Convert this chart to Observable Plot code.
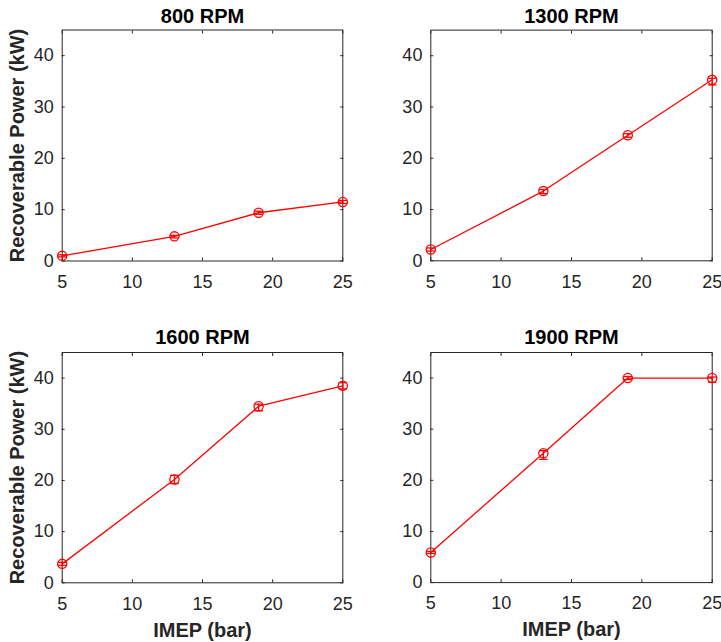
<!DOCTYPE html>
<html><head><meta charset="utf-8">
<script src="https://cdn.jsdelivr.net/npm/d3@7"></script>
<script src="https://cdn.jsdelivr.net/npm/@observablehq/plot@0.6"></script>
<style>
html,body{margin:0;padding:0;background:#fff;}
#chart{position:relative;width:721px;height:642px;overflow:hidden;}
#chart > div{position:absolute;}
</style></head><body><div id="chart"></div>
<script>
// ---- data ----
const imep = [5, 13, 19, 25];
const panelTitles = ["800 RPM", "1300 RPM", "1600 RPM", "1900 RPM"];
const power800  = [1.0, 4.8, 9.4, 11.5];
const power1300 = [2.2, 13.6, 24.5, 35.3];
const power1600 = [3.7, 20.2, 34.5, 38.5];
const power1900 = [5.9, 25.3, 40.0, 40.0];
const errLow800  = [0.2, 0.3, 0.3, 0.3];
const errHigh800 = [0.2, 0.2, 0.3, 0.3];
const errLow1300  = [0.3, 0.5, 0.4, 1.0];
const errHigh1300 = [0.3, 0.3, 0.3, 0.3];
const errLow1600  = [0.3, 0.8, 0.9, 0.6];
const errHigh1600 = [0.3, 0.8, 0.4, 0.6];
const errLow1900  = [0.2, 1.2, 0.3, 0.8];
const errHigh1900 = [0.2, 0.5, 0.3, 0.2];
const xTicks = [5, 10, 15, 20, 25];
const yTicks = [0, 10, 20, 30, 40];
const xLabel = "IMEP (bar)";
const yLabel = "Recoverable Power (kW)";

const seriesPower = [power800, power1300, power1600, power1900];
const seriesLow = [errLow800, errLow1300, errLow1600, errLow1900];
const seriesHigh = [errHigh800, errHigh1300, errHigh1600, errHigh1900];

// ---- layout ----
const layout = [
  {left: 0,   top: 0,   width: 370, height: 300, mL: 61.7, mR: 27.7, mT: 29.5, mB: 39.5, ylab: true,  xlab: false, tdy: -7.5},
  {left: 370, top: 0,   width: 351, height: 300, mL: 60.3, mR: 9.3,  mT: 29.6, mB: 39.7, ylab: false, xlab: false, tdy: -7.5},
  {left: 0,   top: 300, width: 370, height: 342, mL: 61.7, mR: 27.7, mT: 52,   mB: 59.7, ylab: true,  xlab: true,  tdy: -8.5},
  {left: 370, top: 300, width: 351, height: 342, mL: 60.3, mR: 9.3,  mT: 52,   mB: 59.9, ylab: false, xlab: true,  tdy: -8.5}
];

const red = "#ff0000";
const axisColor = "#262626";
const font = "'Liberation Sans', Arial, Helvetica, sans-serif";
const capSymbol = {draw(ctx, size) { const w = Math.sqrt(size / Math.PI); ctx.moveTo(-w, 0); ctx.lineTo(w, 0); }};

const chart = document.getElementById("chart");

layout.forEach((L, i) => {
  const rows = imep.map((x, j) => ({
    x, y: seriesPower[i][j],
    lo: seriesPower[i][j] - seriesLow[i][j],
    hi: seriesPower[i][j] + seriesHigh[i][j]
  }));
  const marks = [
    Plot.frame({stroke: axisColor, strokeWidth: 1}),
    Plot.axisX({ticks: xTicks, anchor: "bottom", tickSize: -3, tickPadding: 17, fontSize: 18, label: null}),
    Plot.axisX({ticks: xTicks, anchor: "top", tickSize: -3, fill: "none", label: null}),
    Plot.axisY({ticks: yTicks, anchor: "left", tickSize: -3, tickPadding: 11.4, fontSize: 18, label: null}),
    Plot.axisY({ticks: yTicks, anchor: "right", tickSize: -3, fill: "none", label: null}),
    Plot.line(rows, {x: "x", y: "y", stroke: red, strokeWidth: 1.3}),
    Plot.ruleX(rows, {x: "x", y1: "lo", y2: "hi", stroke: red, strokeWidth: 1.3}),
    Plot.dot(rows, {x: "x", y: "lo", symbol: capSymbol, r: 4.3, stroke: red, fill: "none", strokeWidth: 1.3}),
    Plot.dot(rows, {x: "x", y: "hi", symbol: capSymbol, r: 4.3, stroke: red, fill: "none", strokeWidth: 1.3}),
    Plot.dot(rows, {x: "x", y: "y", r: 4.6, stroke: red, fill: "none", strokeWidth: 1.3}),
    Plot.text([panelTitles[i]], {frameAnchor: "top", lineAnchor: "bottom", dy: L.tdy, fontSize: 20, fontWeight: "bold", fill: "#000"})
  ];
  if (L.ylab) marks.push(Plot.text([yLabel], {frameAnchor: "left", textAnchor: "middle", rotate: -90, dx: -45, fontSize: 20, fontWeight: "bold", fill: axisColor}));
  if (L.xlab) marks.push(Plot.text([xLabel], {frameAnchor: "bottom", lineAnchor: "bottom", dy: 53.7, fontSize: 20, fontWeight: "bold", fill: axisColor}));

  const svg = Plot.plot({
    width: L.width, height: L.height,
    marginLeft: L.mL, marginRight: L.mR, marginTop: L.mT, marginBottom: L.mB,
    x: {domain: [5, 25], label: null},
    y: {domain: [0, 45], label: null},
    style: {fontFamily: font, fontSize: "18px", color: axisColor, background: "transparent", overflow: "visible"},
    marks
  });
  const holder = document.createElement("div");
  holder.style.left = L.left + "px";
  holder.style.top = L.top + "px";
  holder.appendChild(svg);
  chart.appendChild(holder);
});
</script></body></html>
